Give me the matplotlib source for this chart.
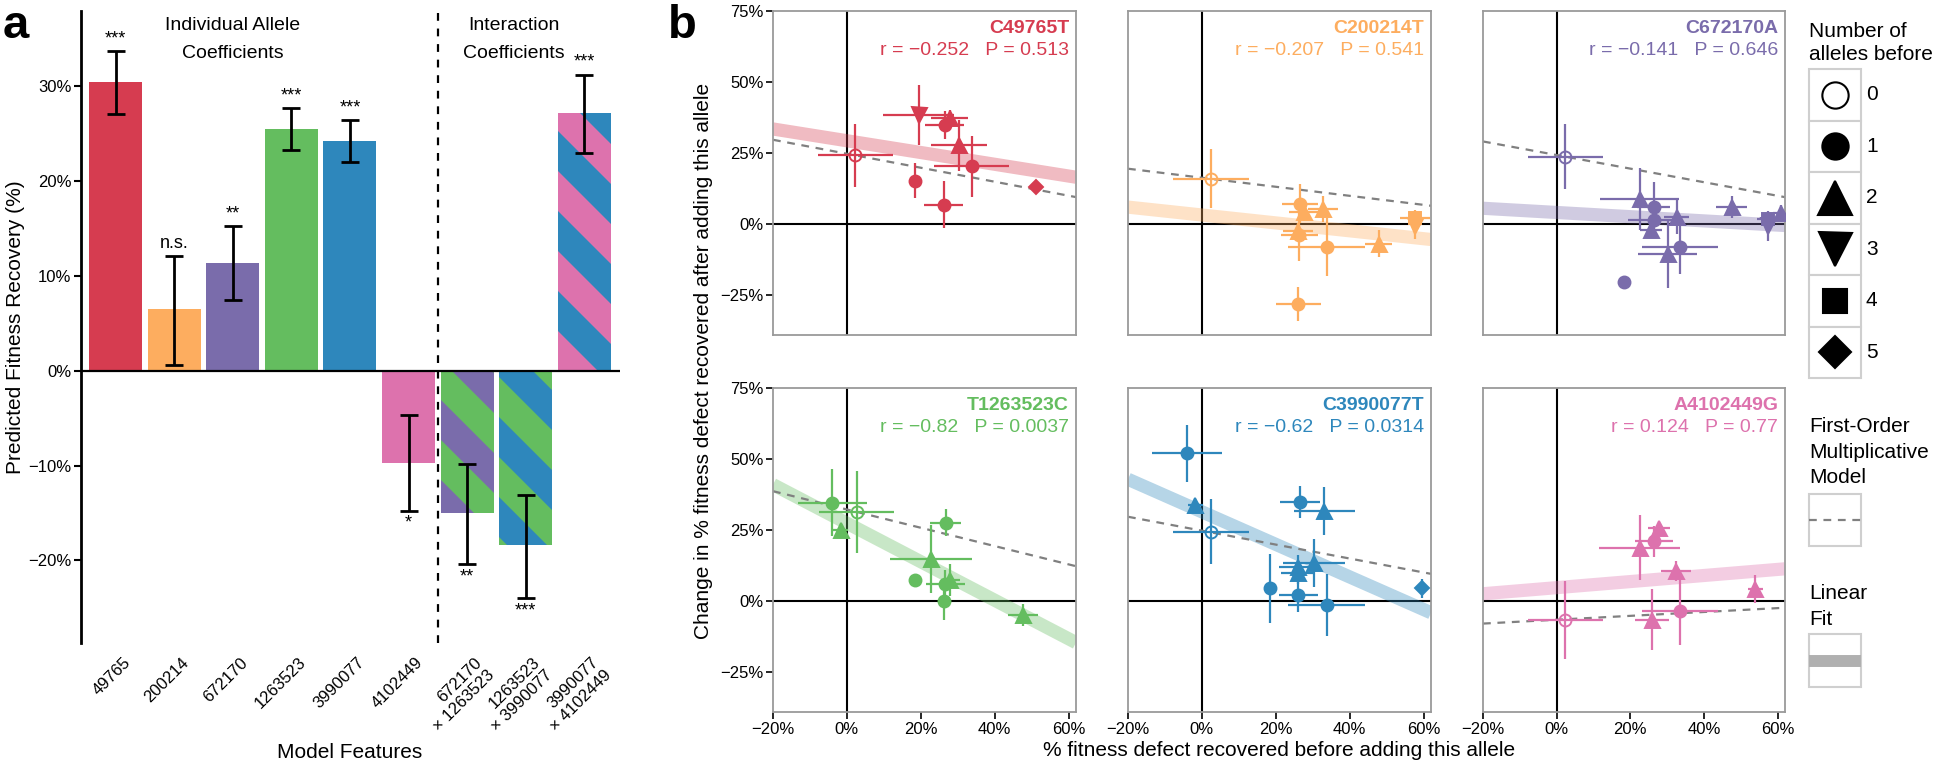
import numpy as np
import matplotlib
matplotlib.use('Agg')
import matplotlib.pyplot as plt
import matplotlib.transforms as mtransforms
from matplotlib.patches import Rectangle, Polygon

plt.rcParams['font.family'] = ['Liberation Sans', 'DejaVu Sans']

# ---------------- panel a data
features = ['49765', '200214', '672170', '1263523', '3990077', '4102449',
            '672170\n× 1263523', '1263523\n× 3990077', '3990077\n× 4102449']
coef = [30.4, 6.5, 11.35, 25.5, 24.2, -9.7, -15.0, -18.4, 27.1]
ci_low = [27.0, 0.6, 7.4, 23.3, 22.0, -14.8, -20.4, -24.0, 22.9]
ci_high = [33.7, 12.1, 15.2, 27.7, 26.4, -4.7, -9.8, -13.1, 31.2]
signif = ['***', 'n.s.', '**', '***', '***', '*', '**', '***', '***']

red, orange, purple, green, blue, pink = '#D63C50', '#FDAD5F', '#7A6CAB', '#64BD5F', '#2E87BC', '#DD72AD'
bar_fill = [red, orange, purple, green, blue, pink, green, green, pink]
bar_stripe = [None, None, None, None, None, None, purple, blue, blue]
stripe_phase = [0, 0, 0, 0, 0, 0, 45, 6, 31]   # px offset of the stripe pattern

# ---------------- panel b data
alleles = ['C49765T', 'C200214T', 'C672170A', 'T1263523C', 'C3990077T', 'A4102449G']
allele_col = [red, orange, purple, green, blue, pink]
r_txt = ['−0.252', '−0.207', '−0.141', '−0.82', '−0.62', '0.124']
p_txt = ['0.513', '0.541', '0.646', '0.0037', '0.0314', '0.77']
fit_int = [29.35, 3.22, 4.11, 27.44, 31.44, 4.75]
fit_slope = [-0.207, -0.139, -0.074, -0.678, -0.573, 0.107]
mult_int = [24.77, 16.33, 24.32, 32.26, 24.8, -6.53]
mult_slope = [-0.246, -0.159, -0.239, -0.322, -0.245, 0.068]

x_before = [
    [2.3, 19.4, 27.8, 26.5, 30.4, 33.8, 18.4, 26.2, 51.1],
    [2.4, 26.6, 27.7, 32.7, 26.4, 26.0, 33.8, 47.8, 26.1, 57.7, 57.7],
    [2.4, 22.5, 26.4, 26.4, 25.7, 32.6, 47.6, 33.6, 30.2, 18.2, 57.5, 57.5, 60.8],
    [-3.9, 2.6, -1.7, 26.7, 22.8, 18.4, 26.6, 28.0, 26.2, 47.7],
    [-4.1, -1.8, 2.4, 26.6, 33.1, 25.9, 25.9, 30.4, 18.3, 26.1, 33.8, 59.6],
    [2.4, 22.5, 26.4, 27.7, 32.4, 33.6, 25.9, 53.9],
]
y_change = [
    [24.2, 38.5, 37.3, 34.8, 27.7, 20.3, 15.3, 6.9, 13.0],
    [16.0, 7.2, 4.2, 5.3, -3.8, -2.5, -8.1, -6.9, -28.1, 2.1, -0.8],
    [23.8, 8.8, 6.2, 1.5, -2.0, 2.5, 6.0, -7.9, -10.4, -20.4, 1.8, -0.8, 3.9],
    [34.6, 31.3, 25.2, 27.6, 14.9, 7.6, 5.9, 7.4, 0.0, -5.0],
    [52.0, 33.8, 24.4, 34.9, 31.7, 12.1, 10.0, 13.3, 4.5, 2.0, -1.2, 4.5],
    [-6.5, 18.8, 21.1, 25.8, 10.6, -3.5, -6.5, 4.3],
]
x_err = [
    [10.2, 9.5, 5.0, 5.3, 7.6, 10.2, 0, 5.3, 0],
    [10.3, 4.8, 4.0, 4.0, 5.0, 4.0, 10.4, 3.6, 6.1, 4.0, 0],
    [10.2, 10.8, 4.5, 7.0, 3.0, 3.4, 4.2, 10.3, 8.0, 0, 3.0, 0, 2.0],
    [9.3, 10.1, 2.0, 4.3, 11.1, 0, 5.3, 2.5, 0, 4.1],
    [9.5, 2.0, 10.3, 5.4, 8.3, 5.0, 4.5, 8.4, 0, 5.2, 10.4, 0],
    [10.2, 11.0, 5.2, 3.0, 4.1, 10.3, 4.6, 2.0],
]
y_err = [
    [11.1, 10.5, 3.0, 5.0, 9.0, 10.6, 6.2, 8.3, 0],
    [10.3, 6.8, 3.0, 4.7, 9.0, 3.0, 10.3, 4.7, 6.1, 3.0, 4.5],
    [11.3, 10.8, 8.5, 3.0, 3.0, 6.0, 4.0, 9.7, 12.0, 0, 3.0, 5.0, 3.0],
    [11.8, 14.4, 2.0, 4.7, 12.0, 0, 5.2, 5.5, 6.6, 3.9],
    [10.0, 1.5, 11.4, 5.5, 8.5, 4.0, 4.0, 8.4, 12.2, 5.9, 10.9, 3.4],
    [13.7, 11.4, 5.4, 1.5, 3.5, 12.0, 10.7, 5.0],
]
n_before = [
    [0, 3, 2, 1, 2, 1, 1, 1, 5],
    [0, 1, 2, 2, 1, 2, 1, 2, 1, 4, 3],
    [0, 2, 1, 1, 2, 2, 2, 1, 2, 1, 4, 3, 2],
    [1, 0, 2, 1, 2, 1, 1, 2, 1, 2],
    [1, 2, 0, 1, 2, 2, 2, 2, 1, 1, 1, 5],
    [0, 2, 1, 2, 2, 1, 2, 2],
]

marker_of = {0: 'o', 1: 'o', 2: '^', 3: 'v', 4: 's', 5: 'D'}
size_of = {0: 8.6, 1: 8.6, 2: 10.8, 3: 10.8, 4: 8.0, 5: 7.3}

W, H = 1935, 764
fig = plt.figure(figsize=(W / 100, H / 100), dpi=100)


def box(x0, y0, x1, y1):
    return [x0 / W, 1 - y1 / H, (x1 - x0) / W, (y1 - y0) / H]


def px(x, y):
    return x / W, 1 - y / H


def pct(v):
    return f'{v}%'.replace('-', '−')


# ================= panel a
ax = fig.add_axes(box(81, 11, 620, 643))
pos = np.arange(len(features))
ax.set_xlim(-0.59, 8.61)
ax.set_ylim(-28.7, 37.9)
bars = ax.bar(pos, coef, width=0.905, color=bar_fill, linewidth=0, zorder=2)

# diagonal two-colour stripes for the interaction terms
period, half = 80.0, 40.0
for i in pos:
    if bar_stripe[i] is None:
        continue
    patch = bars.patches[i]
    (x0, ya), (x1, yb) = ax.transData.transform([(i - 0.46, 0), (i + 0.46, coef[i])])
    lo, hi = min(ya, yb), max(ya, yb)
    ph = stripe_phase[i]
    c = np.floor((x0 + lo - ph) / period) * period + ph - period
    while c < x1 + hi:
        xs = [x0 - 5, x1 + 5, x1 + 5, x0 - 5]
        ys = [c - xs[0], c - xs[1], c + half - xs[2], c + half - xs[3]]
        st = Polygon(np.column_stack([xs, ys]), closed=True, facecolor=bar_stripe[i],
                     edgecolor='none', transform=mtransforms.IdentityTransform(), zorder=2.5)
        ax.add_patch(st)
        st.set_clip_path(patch)
        c += period

cl = np.array(ci_low)
ch = np.array(ci_high)
cf = np.array(coef)
ax.errorbar(pos, cf, yerr=[cf - cl, ch - cf], fmt='none', ecolor='black',
            elinewidth=2.0, capsize=6.5, capthick=2.0, zorder=4)
for i in pos:
    if coef[i] > 0:
        ax.text(i, ci_high[i] + 0.4, signif[i], ha='center', va='bottom', fontsize=13)
    else:
        ax.text(i, ci_low[i] - 0.4, signif[i], ha='center', va='top', fontsize=13)

ax.axhline(0, color='black', lw=1.6, zorder=5)
ax.axvline(5.5, color='black', lw=1.6, ls=(0, (3.5, 3.5)), zorder=1)
for s in ['top', 'right', 'bottom']:
    ax.spines[s].set_visible(False)
ax.spines['left'].set_linewidth(2.0)
yt = [-20, -10, 0, 10, 20, 30]
ax.set_yticks(yt)
ax.set_yticklabels([pct(v) for v in yt], fontsize=12)
ax.tick_params(axis='y', length=5, width=1.5, pad=2)
ax.set_xticks([])

lab_tr = mtransforms.blended_transform_factory(ax.transData, ax.transAxes) + \
    mtransforms.ScaledTranslation(7 / 100, -12 / 100, fig.dpi_scale_trans)
for i, f in enumerate(features):
    ax.text(i, 0, f, transform=lab_tr, rotation=45, ha='right', va='top',
            rotation_mode='anchor', multialignment='right', fontsize=12, clip_on=False)

ax.text(2.0, 37.3, 'Individual Allele', ha='center', va='top', fontsize=14)
ax.text(2.0, 34.35, 'Coefficients', ha='center', va='top', fontsize=14)
ax.text(6.8, 37.3, 'Interaction', ha='center', va='top', fontsize=14)
ax.text(6.8, 34.35, 'Coefficients', ha='center', va='top', fontsize=14)

fig.text(*px(16, 327), 'Predicted Fitness Recovery (%)', rotation=90, ha='center', va='center', fontsize=15)
fig.text(*px(350, 752), 'Model Features', ha='center', va='center', fontsize=15)
fig.text(*px(3, 38), 'a', fontsize=34, fontweight='bold', va='baseline')
fig.text(*px(668, 38), 'b', fontsize=34, fontweight='bold', va='baseline')

# ================= panel b
cols = [(773, 1076), (1128, 1431), (1483, 1785)]
rows = [(11, 335), (388, 712)]
xlim = (-20, 62)
for k in range(6):
    r, cidx = divmod(k, 3)
    c = allele_col[k]
    bx = fig.add_axes(box(cols[cidx][0], rows[r][0], cols[cidx][1], rows[r][1]))
    bx.set_xlim(*xlim)
    bx.set_ylim(-39, 75)
    bx.axhline(0, color='black', lw=1.5, zorder=1)
    bx.axvline(0, color='black', lw=1.5, zorder=1)
    xx = np.array(xlim, dtype=float)
    bx.plot(xx, fit_int[k] + fit_slope[k] * xx, color=c, alpha=0.35, lw=9.5,
            solid_capstyle='butt', zorder=1.5)
    bx.plot(xx, mult_int[k] + mult_slope[k] * xx, color='#808080', lw=1.6,
            ls=(0, (3.5, 3)), zorder=2)
    bx.errorbar(x_before[k], y_change[k], xerr=x_err[k], yerr=y_err[k], fmt='none',
                ecolor=c, elinewidth=1.6, capsize=0, zorder=3)
    for xv, yv, nb in zip(x_before[k], y_change[k], n_before[k]):
        bx.plot(xv, yv, ls='none', marker=marker_of[nb], ms=size_of[nb],
                mfc='none' if nb == 0 else c, mec=c, mew=1.4, zorder=4)
    for s in bx.spines.values():
        s.set_color('#9a9a9a')
        s.set_linewidth(1.3)
    bx.set_xticks([-20, 0, 20, 40, 60])
    bx.set_yticks([-25, 0, 25, 50, 75])
    bx.tick_params(length=5, width=1.2, pad=2, labelsize=12)
    if cidx == 0:
        bx.set_yticklabels([pct(v) for v in [-25, 0, 25, 50, 75]])
    else:
        bx.tick_params(axis='y', length=0, labelleft=False)
    if r == 1:
        bx.set_xticklabels([pct(v) for v in [-20, 0, 20, 40, 60]])
    else:
        bx.tick_params(axis='x', length=0, labelbottom=False)
    bx.annotate(alleles[k], xy=(1, 1), xycoords='axes fraction', xytext=(-5, -16),
                textcoords='offset points', ha='right', va='baseline',
                fontsize=14, fontweight='bold', color=c)
    bx.annotate(f'r = {r_txt[k]}   P = {p_txt[k]}', xy=(1, 1), xycoords='axes fraction',
                xytext=(-5, -32), textcoords='offset points', ha='right', va='baseline',
                fontsize=14, color=c)

fig.text(*px(703, 361), 'Change in % fitness defect recovered after adding this allele',
         rotation=90, ha='center', va='center', fontsize=15)
fig.text(*px(1279, 751), '% fitness defect recovered before adding this allele',
         ha='center', va='center', fontsize=15)

# ================= legends
lg = fig.add_axes([0, 0, 1, 1], facecolor='none')
lg.set_xlim(0, W)
lg.set_ylim(H, 0)
lg.axis('off')
kx0, kx1 = 1809, 1861
key_h = 51.5
key_top = 69
lg.text(kx0, 37, 'Number of', fontsize=15, va='baseline')
lg.text(kx0, 60, 'alleles before', fontsize=15, va='baseline')
for nb in range(6):
    top = key_top + nb * key_h
    lg.add_patch(Rectangle((kx0, top), kx1 - kx0, key_h, facecolor='white',
                           edgecolor='#cfcfcf', lw=1.5))
    lg.plot((kx0 + kx1) / 2, top + key_h / 2, marker=marker_of[nb], ms=size_of[nb] * 2.2,
            mfc='white' if nb == 0 else 'black', mec='black', mew=1.5, ls='none')
    lg.text(kx1 + 5, top + key_h / 2, str(nb), fontsize=15, va='center')

for j, t in enumerate(['First-Order', 'Multiplicative', 'Model']):
    lg.text(kx0, 432 + j * 25.5, t, fontsize=15, va='baseline')
lg.add_patch(Rectangle((kx0, 494), kx1 - kx0, 52, facecolor='white', edgecolor='#cfcfcf', lw=1.5))
lg.plot([kx0, kx1], [520, 520], color='#808080', lw=1.6, ls=(0, (3.5, 3)))

for j, t in enumerate(['Linear', 'Fit']):
    lg.text(kx0, 599 + j * 26, t, fontsize=15, va='baseline')
lg.add_patch(Rectangle((kx0, 634), kx1 - kx0, 53, facecolor='white', edgecolor='#cfcfcf', lw=1.5))
lg.plot([kx0, kx1], [661, 661], color='#b0b0b0', lw=8.6, solid_capstyle='butt')

fig.savefig('out.png', dpi=100)
